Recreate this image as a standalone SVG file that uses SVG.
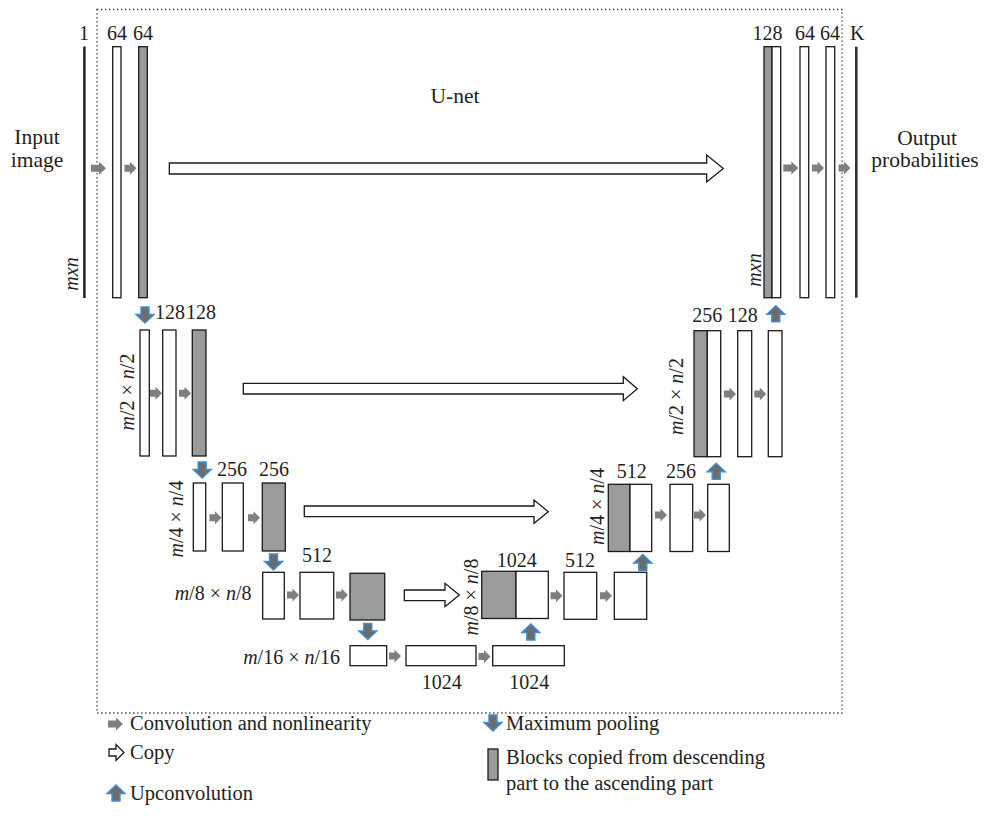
<svg xmlns="http://www.w3.org/2000/svg" width="985" height="829" viewBox="0 0 985 829">
<style>
  text { font-family: "Liberation Serif", "DejaVu Serif", serif; fill: #231f20; }
  .t { font-size: 20px; }
  .big { font-size: 21.5px; }
  .lg { font-size: 20.5px; }
  .i { font-style: italic; }
  .w { fill: #ffffff; stroke: #1a1a1a; stroke-width: 1.3; }
  .g { fill: #9a9c9c; stroke: #1a1a1a; stroke-width: 1.3; }
  .bar { fill: #1a1a1a; }
  .conv { fill: #7f7f7f; }
  .pool { fill: #6b6c6c; stroke: #3f8fd2; stroke-width: 1.4; stroke-linejoin: miter; }
  .copy { fill: #ffffff; stroke: #1a1a1a; stroke-width: 1.3; stroke-linejoin: miter; }
  .frame { fill: none; stroke: #333333; stroke-width: 1.3; stroke-dasharray: 1.3 2.7; }
</style>
<defs>
  <path id="convL" d="M0,-3.5 H8 V-6.5 L15,0 L8,6.5 V3.5 H0 Z"/>
  <path id="conv" d="M0,-3.5 H5.5 V-6.5 L12,0 L5.5,6.5 V3.5 H0 Z"/>
  <path id="down" d="M-4,0 H4 V7.5 H9 L0,16 L-9,7.5 H-4 Z"/>
  <path id="up" d="M-4,0 H4 V-7.5 H9 L0,-16 L-9,-7.5 H-4 Z"/>
</defs>

<rect id="frame" class="frame" x="97" y="9.5" width="745" height="703.5"/>

<g id="input-layer">
  <rect class="bar" x="83.2" y="46.5" width="2.4" height="251.5"/>
  <text class="t" x="84" y="40" text-anchor="middle">1</text>
  <text class="big" x="37" y="144" text-anchor="middle">Input</text>
  <text class="big" x="37" y="167" text-anchor="middle">image</text>
  <text class="t i" transform="translate(77.5,274) rotate(-90)" text-anchor="middle">mxn</text>
</g>
<g id="enc1-conv1">
  <rect class="w" x="112.7" y="46.7" width="8.3" height="251"/>
  <text class="t" x="117" y="40" text-anchor="middle">64</text>
</g>
<g id="enc1-conv2">
  <rect class="g" x="138.7" y="46.7" width="8.6" height="251"/>
  <text class="t" x="143" y="40" text-anchor="middle">64</text>
</g>

<g id="enc2-pool">
  <rect class="w" x="140" y="330" width="9.3" height="126"/>
  <text class="t" x="170" y="319" text-anchor="middle">128</text>
  <text class="t i" transform="translate(133.5,392) rotate(-90)" text-anchor="middle">m<tspan font-style="normal">/2 × </tspan>n<tspan font-style="normal">/2</tspan></text>
</g>
<g id="enc2-conv1">
  <rect class="w" x="162.7" y="330" width="13.3" height="126"/>
  <text class="t" x="201" y="319" text-anchor="middle">128</text>
</g>
<g id="enc2-conv2">
  <rect class="g" x="192.3" y="330" width="13.7" height="126"/>
</g>

<g id="enc3-pool">
  <rect class="w" x="193.3" y="483" width="12.4" height="68"/>
  <text class="t i" transform="translate(183,519) rotate(-90)" text-anchor="middle">m<tspan font-style="normal">/4 × </tspan>n<tspan font-style="normal">/4</tspan></text>
</g>
<g id="enc3-conv1">
  <rect class="w" x="222.3" y="483" width="21" height="68"/>
  <text class="t" x="232" y="476" text-anchor="middle">256</text>
</g>
<g id="enc3-conv2">
  <rect class="g" x="262.3" y="483" width="23" height="68"/>
  <text class="t" x="274" y="476" text-anchor="middle">256</text>
</g>

<g id="enc4-pool">
  <rect class="w" x="262.7" y="572.3" width="21.6" height="46.7"/>
  <text class="t" x="251.5" y="600" text-anchor="end"><tspan class="i">m</tspan>/8 × <tspan class="i">n</tspan>/8</text>
</g>
<g id="enc4-conv1">
  <rect class="w" x="300" y="572.3" width="33.7" height="46.7"/>
  <text class="t" x="317" y="561.5" text-anchor="middle">512</text>
</g>
<g id="enc4-conv2">
  <rect class="g" x="350" y="573.3" width="34.7" height="46.7"/>
</g>

<g id="bottom-pool">
  <rect class="w" x="350" y="645.7" width="36.7" height="20"/>
  <text class="t" x="340" y="663.5" text-anchor="end"><tspan class="i">m</tspan>/16 × <tspan class="i">n</tspan>/16</text>
</g>
<g id="bottom-conv1">
  <rect class="w" x="406" y="645.7" width="70" height="20"/>
  <text class="t" x="441.7" y="688.5" text-anchor="middle">1024</text>
</g>
<g id="bottom-conv2">
  <rect class="w" x="492.7" y="645.7" width="71.6" height="20"/>
  <text class="t" x="529.3" y="688.5" text-anchor="middle">1024</text>
</g>

<g id="dec4-concat">
  <rect class="g" x="481.7" y="571.3" width="34.3" height="47.2"/>
  <rect class="w" x="516" y="571.3" width="32.3" height="47.2"/>
  <text class="t" x="516.7" y="567" text-anchor="middle">1024</text>
  <text class="t i" transform="translate(478,597) rotate(-90)" text-anchor="middle">m<tspan font-style="normal">/8 × </tspan>n<tspan font-style="normal">/8</tspan></text>
</g>
<g id="dec4-conv1">
  <rect class="w" x="564" y="572.3" width="32.7" height="47"/>
  <text class="t" x="580" y="567" text-anchor="middle">512</text>
</g>
<g id="dec4-conv2">
  <rect class="w" x="614.3" y="572.3" width="32.4" height="47"/>
</g>

<g id="dec3-concat">
  <rect class="g" x="608.3" y="484.3" width="21.7" height="67.2"/>
  <rect class="w" x="630" y="484.3" width="21.7" height="67.2"/>
  <text class="t" x="631.7" y="478" text-anchor="middle">512</text>
  <text class="t i" transform="translate(603.5,506.5) rotate(-90)" text-anchor="middle">m<tspan font-style="normal">/4 × </tspan>n<tspan font-style="normal">/4</tspan></text>
</g>
<g id="dec3-conv1">
  <rect class="w" x="670" y="484.3" width="22.7" height="67.2"/>
  <text class="t" x="681" y="478" text-anchor="middle">256</text>
</g>
<g id="dec3-conv2">
  <rect class="w" x="707.7" y="484.3" width="21.6" height="67.2"/>
</g>

<g id="dec2-concat">
  <rect class="g" x="694" y="330.7" width="13.3" height="126"/>
  <rect class="w" x="707.3" y="330.7" width="13.4" height="126"/>
  <text class="t" x="707.3" y="322" text-anchor="middle">256</text>
  <text class="t i" transform="translate(683,396.5) rotate(-90)" text-anchor="middle">m<tspan font-style="normal">/2 × </tspan>n<tspan font-style="normal">/2</tspan></text>
</g>
<g id="dec2-conv1">
  <rect class="w" x="737.7" y="330.7" width="14" height="126"/>
  <text class="t" x="742.7" y="322" text-anchor="middle">128</text>
</g>
<g id="dec2-conv2">
  <rect class="w" x="768.3" y="330.7" width="13.7" height="126"/>
</g>

<g id="dec1-concat">
  <rect class="g" x="764" y="46.7" width="8" height="251"/>
  <rect class="w" x="772" y="46.7" width="8.7" height="251"/>
  <text class="t" x="767.5" y="40" text-anchor="middle">128</text>
  <text class="t i" transform="translate(760.7,270) rotate(-90)" text-anchor="middle">mxn</text>
</g>
<g id="dec1-conv1">
  <rect class="w" x="800" y="46.7" width="8.7" height="251"/>
  <text class="t" x="805" y="40" text-anchor="middle">64</text>
</g>
<g id="dec1-conv2">
  <rect class="w" x="826" y="46.7" width="8.7" height="251"/>
  <text class="t" x="830" y="40" text-anchor="middle">64</text>
</g>
<g id="output-layer">
  <rect fill="#333333" x="855" y="46.7" width="2.6" height="251"/>
  <text class="t" x="857.3" y="40" text-anchor="middle">K</text>
  <text class="big" x="927" y="145" text-anchor="middle">Output</text>
  <text class="big" x="925" y="167" text-anchor="middle">probabilities</text>
</g>

<g id="unet-label">
  <text class="big" x="455" y="103" text-anchor="middle">U-net</text>
</g>

<g id="connectors">
  <path class="copy" d="M169.3,163 H706.7 V155 L723.3,168.5 L706.7,182 V174 H169.3 Z"/>
  <path class="copy" d="M243.3,383.3 H623.3 V376.7 L637.3,388.7 L623.3,400.7 V394 H243.3 Z"/>
  <path class="copy" d="M304.3,506 H534 V500 L548.3,511.7 L534,523.3 V516.7 H304.3 Z"/>
  <path class="copy" d="M404.3,590 H445 V583.3 L459.3,595 L445,606.7 V600.7 H404.3 Z"/>

  <use class="conv" href="#convL" x="91" y="168.3"/>
  <use class="conv" href="#conv" x="124.5" y="168.3"/>
  <use class="conv" href="#convL" x="783.3" y="168"/>
  <use class="conv" href="#conv" x="812" y="168"/>
  <use class="conv" href="#conv" x="838.5" y="168"/>

  <use class="conv" href="#conv" x="150" y="393.3"/>
  <use class="conv" href="#conv" x="179" y="393.3"/>
  <use class="conv" href="#conv" x="724" y="394"/>
  <use class="conv" href="#conv" x="754.3" y="394"/>

  <use class="conv" href="#conv" x="209.5" y="517.7"/>
  <use class="conv" href="#conv" x="248" y="517.7"/>
  <use class="conv" href="#conv" x="655" y="515"/>
  <use class="conv" href="#conv" x="694" y="515"/>

  <use class="conv" href="#conv" x="287" y="595"/>
  <use class="conv" href="#conv" x="336" y="595"/>
  <use class="conv" href="#conv" x="550.5" y="595.7"/>
  <use class="conv" href="#conv" x="600" y="595.7"/>

  <use class="conv" href="#conv" x="389" y="656"/>
  <use class="conv" href="#conv" x="478.5" y="656.5"/>

  <use class="pool" href="#down" x="145" y="307"/>
  <use class="pool" href="#down" x="202.2" y="462"/>
  <use class="pool" href="#down" x="273.5" y="554"/>
  <use class="pool" href="#down" x="367.8" y="623.5"/>

  <use class="pool" href="#up" x="530.8" y="640"/>
  <use class="pool" href="#up" x="642.8" y="570.5"/>
  <use class="pool" href="#up" x="716.2" y="479.3"/>
  <use class="pool" href="#up" x="775.8" y="321.7"/>
</g>

<g id="legend">
  <use class="conv" href="#convL" x="108" y="724"/>
  <text class="lg" x="130" y="730">Convolution and nonlinearity</text>
  <path class="copy" d="M109,749 H116 V744.5 L124,752.5 L116,760.5 V756 H109 Z"/>
  <text class="lg" x="130" y="759">Copy</text>
  <use class="pool" href="#up" x="116" y="801"/>
  <text class="lg" x="130" y="800">Upconvolution</text>
  <use class="pool" href="#down" x="493" y="715"/>
  <text class="lg" x="506" y="730">Maximum pooling</text>
  <rect class="g" x="488" y="749" width="10" height="31"/>
  <text class="lg" x="506" y="764">Blocks copied from descending</text>
  <text class="lg" x="506" y="790">part to the ascending part</text>
</g>
</svg>
